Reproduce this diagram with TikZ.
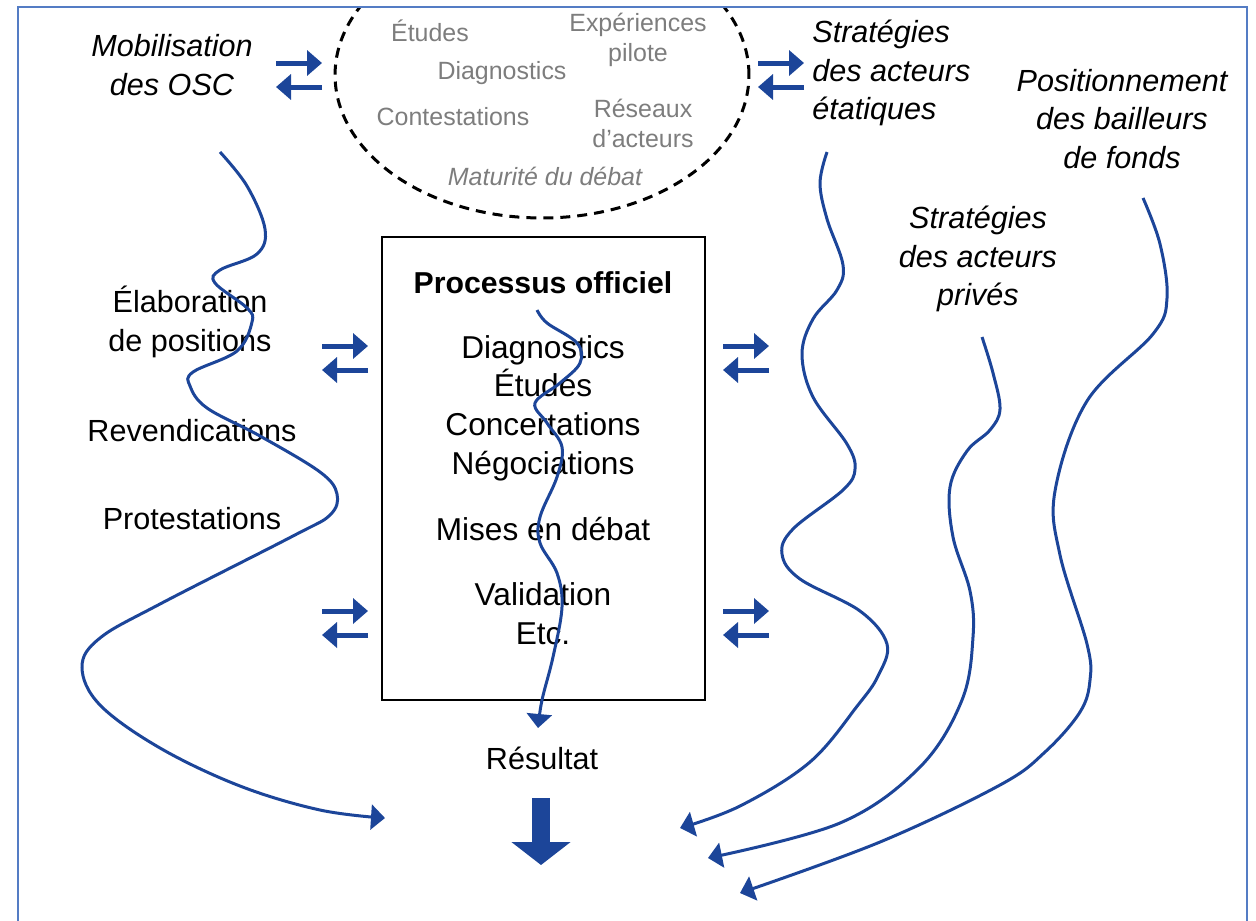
\documentclass[tikz,border=0pt]{standalone}
\usepackage{fontspec}
\setmainfont{Liberation Sans}
\usetikzlibrary{arrows.meta,shapes.geometric}
\definecolor{bleu}{RGB}{28,69,153}
\definecolor{cadrebleu}{RGB}{84,124,196}
\definecolor{gristexte}{RGB}{125,125,125}

\begin{document}
\begin{tikzpicture}[x=0.02cm,y=-0.02cm]
    \tikzset{texte/.style={font=\fontsize{17.4}{21.8}\selectfont, align=center, inner sep=0pt}}
    \tikzset{acteur/.style={texte, font=\fontsize{17.4}{21.8}\selectfont\itshape}}
    \tikzset{etape/.style={texte, font=\fontsize{18}{22}\selectfont}}
    \tikzset{debat/.style={texte, font=\fontsize{14.2}{17}\selectfont, text=gristexte}}
    \tikzset{echange/.style={bleu, line width=0.1cm, -{Triangle[length=0.3cm,width=0.5cm]}}}
    \tikzset{flux/.style={bleu, line width=0.06cm, -{Triangle[length=0.28cm,width=0.5cm]}}}
    \useasboundingbox (0,0) rectangle (1256,920);
    % debat en amont
    \begin{scope}
      \clip (18,7) rectangle (1247,920);
      \node[ellipse, draw, line width=0.06cm, dash pattern=on 0.2cm off 0.14cm,
            minimum width=8.28cm, minimum height=5.72cm, inner sep=0pt] (maturite) at (542,75) {};
    \end{scope}
    \draw[cadrebleu, line width=0.04cm] (18,925) -- (18,7) -- (1247,7) -- (1247,925);
    \node[debat] (etudes) at (430,31) {Études};
    \node[debat] (experiences) at (638,40) {Expériences\\pilote};
    \node[debat] (diagdebat) at (502,73) {Diagnostics};
    \node[debat] (contestations) at (453,117) {Contestations};
    \node[debat] (reseaux) at (643,123) {Réseaux\\d'acteurs};
    \node[debat, font=\fontsize{14.2}{17}\selectfont\itshape] (matlabel) at (545,176) {Maturité du débat};
    % acteurs
    \node[acteur] (osc) at (172,65) {Mobilisation\\des OSC};
    \node[acteur, anchor=west, align=left] (etatiques) at (812,73) {Stratégies\\des acteurs\\étatiques};
    \node[acteur] (bailleurs) at (1122,119) {Positionnement\\des bailleurs\\de fonds};
    \node[acteur] (prives) at (978,259) {Stratégies\\des acteurs\\privés};
    \node[texte] (elaboration) at (190,322) {Élaboration\\de positions};
    \node[texte] (revendications) at (192,431) {Revendications};
    \node[texte] (protestations) at (192,519) {Protestations};
    % processus officiel
    \node[draw, line width=0.03cm, minimum width=6.46cm, minimum height=9.26cm] (officiel) at (543.5,468.5) {};
    \node[etape, font=\fontsize{17.2}{22}\selectfont\bfseries] (titre) at (543,283) {Processus officiel};
    \node[etape] (etapes) at (543,408) {Diagnostics\\Études\\Concertations\\Négociations};
    \node[etape] (mises) at (543,529) {Mises en débat};
    \node[etape] (validation) at (543,614) {Validation\\Etc.};
    \node[texte] (resultat) at (542,758) {Résultat};
    % echanges
    \foreach \nom/\x/\y in {osc/276/63, eta/758/63, hg/322/346, hd/723/346, bg/322/611, bd/723/611} {
      \coordinate (\nom a) at (\x,\y);
      \coordinate (\nom b) at (\x+46,\y);
      \coordinate (\nom c) at (\x+46,\y+24);
      \coordinate (\nom d) at (\x,\y+24);
      \draw[echange] (\nom a) -- (\nom b);
      \draw[echange] (\nom c) -- (\nom d);
    }
    % trajectoires
    \coordinate (fin osc) at (385,818);
    \coordinate (fin eta) at (680,828);
    \coordinate (fin pri) at (708,858);
    \coordinate (fin bai) at (740,893);
    \coordinate (fin off) at (538,728);
    \draw[flux] plot[smooth, tension=0.6] coordinates {(220,152) (247,186) (265,229) (257,254) (220,270)
      (215,283) (247,308) (252,322) (237,351) (193,372) (190,386) (207,408) (260,436) (320,472)
      (337,494) (330,515) (293,536) (160,604) (100,638) (82,667) (100,705) (160,748) (240,786)
      (320,810) (fin osc)};
    \draw[flux] plot[smooth, tension=0.6] coordinates {(827,152) (820,183) (827,219) (843,265) (837,290)
      (813,319) (802,354) (813,397) (847,444) (855,469) (843,490) (793,529) (782,554) (800,579)
      (860,611) (887,644) (878,676) (858,705) (810,762) (740,806) (fin eta)};
    \draw[flux] plot[smooth, tension=0.6] coordinates {(982,337) (993,373) (1000,409) (990,430)
      (967,451) (950,487) (953,537) (970,591) (973,637) (962,700) (920,767) (840,823) (fin pri)};
    \draw[flux] plot[smooth, tension=0.6] coordinates {(1143,198) (1160,244) (1167,298) (1153,334)
      (1087,401) (1055,491) (1060,555) (1087,644) (1090,680) (1080,712) (1045,752) (1000,785)
      (880,842) (fin bai)};
    \draw[flux] plot[smooth, tension=0.6] coordinates {(537,310) (547,323) (577,343) (580,363) (560,383)
      (535,403) (547,423) (562,447) (557,477) (540,517) (540,543) (557,573) (562,607) (553,657)
      (542,700) (fin off)};
    % resultat
    \coordinate (haut) at (541,798);
    \coordinate (bas) at (541,865);
    \draw[bleu, line width=0.36cm, -{Triangle[length=0.46cm,width=1.16cm]}] (haut) -- (bas);
\end{tikzpicture}
\end{document}
